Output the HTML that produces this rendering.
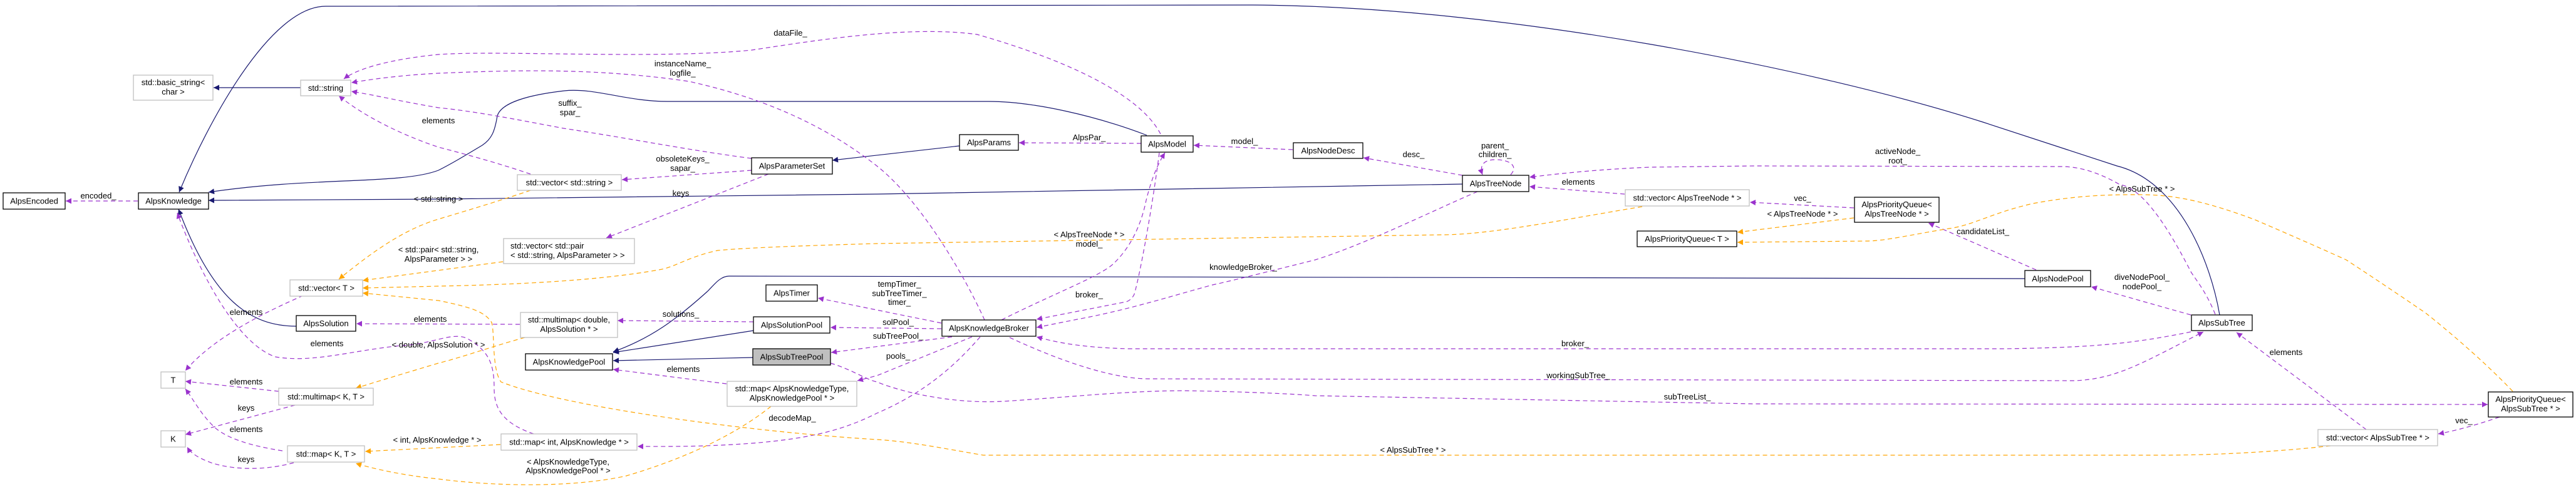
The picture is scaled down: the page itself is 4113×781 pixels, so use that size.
<!DOCTYPE html>
<html><head><meta charset="utf-8"><style>
html,body{margin:0;padding:0;background:#fff;}
svg{display:block;}
text{font-family:"Liberation Sans",Arial,sans-serif;font-size:13px;fill:#000;}
.n{fill:#fff;stroke:#000;stroke-width:1.3;}
.g{fill:#fff;stroke:#bfbfbf;stroke-width:1.3;}
.nv{fill:none;stroke:#191970;stroke-width:1.2;marker-end:url(#mn);}
.pu{fill:none;stroke:#9a32cd;stroke-width:1.2;stroke-dasharray:7,5;marker-end:url(#mp);}
.or{fill:none;stroke:#ffa500;stroke-width:1.2;stroke-dasharray:7,5;marker-end:url(#mo);}
</style></head><body>
<svg width="4113" height="781" viewBox="0 0 4113 781" xmlns="http://www.w3.org/2000/svg">
<defs>
<marker id="mn" viewBox="0 0 10 10" refX="10" refY="5" markerWidth="12" markerHeight="9" markerUnits="userSpaceOnUse" orient="auto"><path d="M0,0L10,5L0,10z" fill="#191970"/></marker>
<marker id="mp" viewBox="0 0 10 10" refX="10" refY="5" markerWidth="12" markerHeight="9" markerUnits="userSpaceOnUse" orient="auto"><path d="M0,0L10,5L0,10z" fill="#9a32cd"/></marker>
<marker id="mo" viewBox="0 0 10 10" refX="10" refY="5" markerWidth="12" markerHeight="9" markerUnits="userSpaceOnUse" orient="auto"><path d="M0,0L10,5L0,10z" fill="#ffa500"/></marker>
</defs>

<!-- navy inheritance edges -->
<path class="nv" d="M3544,503 C3530,420 3480,290 3380,265 L3166,195 C2900,110 2400,10 2000,8 L520,10 C430,10 330,200 286,307"/>
<path class="nv" d="M1831,216 C1750,185 1650,162 1578,162 L1066,162 C1000,162 950,140 901,145 C840,152 800,165 794,185 C790,210 785,222 770,232 C740,250 720,262 700,272 C640,295 500,282 333,307"/>
<path class="nv" d="M1532,233 L1329,256"/>
<path class="nv" d="M2335,294 L1400,310 L700,318 L333,320"/>
<path class="nv" d="M473,521 C400,521 340,480 285,334"/>
<path class="nv" d="M1203,528 L979,563"/>
<path class="nv" d="M1202,571 L979,576"/>
<path class="nv" d="M3233,445 L1164,441 C1150,441 1140,455 1130,465 C1080,510 1040,540 979,562"/>
<path class="nv" d="M480,140 L341,140"/>

<!-- purple dashed -->
<path class="pu" d="M220,321 L105,321"/>
<path class="pu" d="M1853,214 C1820,150 1700,95 1560,55 C1450,40 1300,65 1200,80 C1050,95 800,80 700,87 C620,95 570,110 549,126"/>
<path class="pu" d="M1572,511 C1540,440 1470,320 1400,265 C1330,210 1236,160 1100,130 C950,108 820,112 700,117 C640,120 590,127 561,132"/>
<path class="pu" d="M1200,253 C1100,240 1000,220 900,205 C820,190 760,178 700,172 C640,162 600,152 561,146"/>
<path class="pu" d="M847,278 C800,262 750,248 700,235 C640,215 580,185 541,153"/>
<path class="pu" d="M1200,272 L993,287"/>
<path class="pu" d="M1227,278 L968,380"/>
<path class="pu" d="M1822,229 L1627,228"/>
<path class="pu" d="M2064,239 L1906,232"/>
<path class="pu" d="M2335,280 L2177,252"/>
<path class="pu" d="M2412,279 C2425,265 2410,255 2388,255 C2368,255 2362,265 2367,279"/>
<path class="pu" d="M2594,310 L2442,298"/>
<path class="pu" d="M3537,502 C3520,460 3500,440 3496,430 C3460,360 3420,300 3385,295 C3350,275 3320,266 3291,266 L2800,265 L2636,267 C2560,270 2500,276 2442,283"/>
<path class="pu" d="M2960,332 L2794,323"/>
<path class="pu" d="M3251,431 L3079,356"/>
<path class="pu" d="M3498,503 L3339,458"/>
<path class="pu" d="M2359,306 C2280,340 2180,390 2100,415 C2020,435 1960,450 1936,455 C1880,470 1802,495 1720,510 L1655,523"/>
<path class="pu" d="M1599,511 C1680,470 1760,440 1779,420 C1810,390 1824,350 1830,320 C1840,280 1850,260 1860,244"/>
<path class="pu" d="M1851,244 C1840,330 1820,440 1811,470 C1805,483 1793,483 1793,483 L1655,510"/>
<path class="pu" d="M1503,516 L1306,476"/>
<path class="pu" d="M1503,525 L1326,523"/>
<path class="pu" d="M1520,538 L1327,563"/>
<path class="pu" d="M1552,538 L1400,600 L1369,608"/>
<path class="pu" d="M1565,538 C1520,590 1470,630 1400,660 C1350,685 1300,700 1200,708 C1120,714 1060,713 1018,713"/>
<path class="pu" d="M1160,613 L979,590"/>
<path class="pu" d="M3498,530 C3400,550 3336,555 3200,557 L1802,557 C1720,555 1680,545 1655,538"/>
<path class="pu" d="M1612,539 C1700,580 1780,605 1833,605 L3313,608 C3380,605 3420,580 3518,530"/>
<path class="pu" d="M1326,580 C1360,590 1380,605 1400,610 C1450,630 1530,645 1601,641 C1700,635 1800,624 1891,624 C1960,625 2050,628 2100,632 L2800,645 L3972,646"/>
<path class="pu" d="M3778,686 L3571,531"/>
<path class="pu" d="M3991,666 C3950,680 3920,688 3893,693"/>
<path class="pu" d="M1203,514 L986,512"/>
<path class="pu" d="M830,518 L569,517"/>
<path class="pu" d="M484,472 C420,500 340,540 296,592"/>
<path class="pu" d="M445,625 L296,609"/>
<path class="pu" d="M471,647 L296,694"/>
<path class="pu" d="M451,720 C400,712 360,700 340,680 C320,660 310,640 296,621"/>
<path class="pu" d="M469,739 C430,750 380,752 340,740 C320,733 305,725 299,714"/>
<path class="pu" d="M852,693 C800,675 789,650 789,620 C789,580 780,560 745,540 C720,530 690,550 640,552 C560,560 500,580 440,570 C380,550 320,440 283,340"/>

<!-- orange dashed -->
<path class="or" d="M847,304 C800,320 750,335 700,350 C650,365 603,395 541,446"/>
<path class="or" d="M803,418 L579,448"/>
<path class="or" d="M2622,330 C2500,350 2380,375 2301,375 L1400,389 C1300,392 1200,395 1146,400 C1100,410 1080,425 1057,430 C950,450 800,455 700,457 L579,460"/>
<path class="or" d="M3721,712 C3650,720 3550,727 3450,727 L1570,727 C1500,715 1450,705 1400,702 C1200,690 900,650 800,610 C785,590 790,530 785,515 C775,500 760,492 700,480 L579,468"/>
<path class="or" d="M838,539 C780,555 740,570 700,580 C650,595 600,610 568,620"/>
<path class="or" d="M799,710 L583,721"/>
<path class="or" d="M1231,649 C1180,690 1102,730 1000,760 C920,778 800,778 700,765 C650,760 600,750 568,740"/>
<path class="or" d="M2960,348 L2774,371"/>
<path class="or" d="M4012,625 C3950,560 3873,500 3873,500 C3800,450 3746,415 3746,415 C3680,385 3598,350 3598,350 C3530,325 3480,312 3425,311 C3350,310 3300,315 3246,325 C3180,340 3150,360 3112,365 C3050,375 3010,385 2979,385 L2774,387"/>

<!-- nodes -->
<rect class="n" x="5" y="308" width="99" height="26"/><text x="54.5" y="325.5" text-anchor="middle">AlpsEncoded</text>
<rect class="n" x="221" y="308" width="112" height="26"/><text x="277" y="325.5" text-anchor="middle">AlpsKnowledge</text>
<rect class="g" x="213" y="120" width="127" height="40"/><text x="276.5" y="136" text-anchor="middle">std::basic_string&lt;</text><text x="276.5" y="151" text-anchor="middle">char &gt;</text>
<rect class="g" x="480" y="128" width="80" height="25"/><text x="520" y="145" text-anchor="middle">std::string</text>
<rect class="g" x="463" y="447" width="116" height="26"/><text x="521" y="464.5" text-anchor="middle">std::vector&lt; T &gt;</text>
<rect class="n" x="473" y="504" width="95" height="25"/><text x="520.5" y="521" text-anchor="middle">AlpsSolution</text>
<rect class="g" x="257" y="594" width="39" height="26"/><text x="276.5" y="611.5" text-anchor="middle">T</text>
<rect class="g" x="445" y="620" width="151" height="27"/><text x="520.5" y="638" text-anchor="middle">std::multimap&lt; K, T &gt;</text>
<rect class="g" x="257" y="688" width="39" height="26"/><text x="276.5" y="705.5" text-anchor="middle">K</text>
<rect class="g" x="459" y="712" width="123" height="26"/><text x="520.5" y="729.5" text-anchor="middle">std::map&lt; K, T &gt;</text>

<rect class="g" x="826" y="279" width="166" height="25"/><text x="909" y="296" text-anchor="middle">std::vector&lt; std::string &gt;</text>
<rect class="n" x="1200" y="252" width="129" height="26"/><text x="1264.5" y="269.5" text-anchor="middle">AlpsParameterSet</text>
<rect class="g" x="804" y="381" width="209" height="40"/><text x="815" y="397" text-anchor="start">std::vector&lt; std::pair</text><text x="815" y="412" text-anchor="start">&lt; std::string, AlpsParameter &gt; &gt;</text>
<rect class="g" x="831" y="499" width="155" height="40"/><text x="908.5" y="515" text-anchor="middle">std::multimap&lt; double,</text><text x="908.5" y="530" text-anchor="middle">AlpsSolution * &gt;</text>
<rect class="n" x="839" y="565" width="139" height="26"/><text x="908.5" y="582.5" text-anchor="middle">AlpsKnowledgePool</text>
<rect class="n" x="1223" y="455" width="82" height="26"/><text x="1264" y="472.5" text-anchor="middle">AlpsTimer</text>
<rect class="n" x="1203" y="506" width="122" height="26"/><text x="1264" y="523.5" text-anchor="middle">AlpsSolutionPool</text>
<rect x="1202" y="557" width="124" height="26" fill="#bfbfbf" stroke="#000" stroke-width="1.3"/><text x="1264" y="574.5" text-anchor="middle">AlpsSubTreePool</text>
<rect class="g" x="1161" y="609" width="207" height="40"/><text x="1264.5" y="625" text-anchor="middle">std::map&lt; AlpsKnowledgeType,</text><text x="1264.5" y="640" text-anchor="middle">AlpsKnowledgePool * &gt;</text>
<rect class="g" x="800" y="693" width="217" height="26"/><text x="908.5" y="710.5" text-anchor="middle">std::map&lt; int, AlpsKnowledge * &gt;</text>

<rect class="n" x="1532" y="215" width="94" height="25"/><text x="1579" y="232" text-anchor="middle">AlpsParams</text>
<rect class="n" x="1822" y="217" width="83" height="26"/><text x="1863.5" y="234.5" text-anchor="middle">AlpsModel</text>
<rect class="n" x="1504" y="511" width="150" height="26"/><text x="1579" y="528.5" text-anchor="middle">AlpsKnowledgeBroker</text>

<rect class="n" x="2065" y="228" width="111" height="25"/><text x="2120.5" y="245" text-anchor="middle">AlpsNodeDesc</text>
<rect class="n" x="2335" y="280" width="106" height="26"/><text x="2388" y="297.5" text-anchor="middle">AlpsTreeNode</text>
<rect class="g" x="2595" y="303" width="198" height="26"/><text x="2694" y="320.5" text-anchor="middle">std::vector&lt; AlpsTreeNode * &gt;</text>
<rect class="n" x="2614" y="369" width="159" height="25"/><text x="2693.5" y="386" text-anchor="middle">AlpsPriorityQueue&lt; T &gt;</text>
<rect class="n" x="2961" y="315" width="135" height="40"/><text x="3028.5" y="331" text-anchor="middle">AlpsPriorityQueue&lt;</text><text x="3028.5" y="346" text-anchor="middle">AlpsTreeNode * &gt;</text>
<rect class="n" x="3233" y="432" width="105" height="26"/><text x="3285.5" y="449.5" text-anchor="middle">AlpsNodePool</text>
<rect class="n" x="3499" y="503" width="97" height="25"/><text x="3547.5" y="520" text-anchor="middle">AlpsSubTree</text>
<rect class="n" x="3973" y="626" width="135" height="40"/><text x="4040.5" y="642" text-anchor="middle">AlpsPriorityQueue&lt;</text><text x="4040.5" y="657" text-anchor="middle">AlpsSubTree * &gt;</text>
<rect class="g" x="3701" y="686" width="191" height="26"/><text x="3796.5" y="703.5" text-anchor="middle">std::vector&lt; AlpsSubTree * &gt;</text>

<!-- edge labels -->
<g text-anchor="middle">
<text x="157" y="317">encoded_</text>
<text x="1262" y="57">dataFile_</text>
<text x="1090" y="106">instanceName_</text><text x="1090" y="121">logfile_</text>
<text x="910" y="169">suffix_</text><text x="910" y="184">spar_</text>
<text x="700" y="197">elements</text>
<text x="1090" y="258">obsoleteKeys_</text><text x="1090" y="273">sapar_</text>
<text x="1087" y="313">keys</text>
<text x="700" y="322">&lt; std::string &gt;</text>
<text x="700" y="403">&lt; std::pair&lt; std::string,</text><text x="700" y="418">AlpsParameter &gt; &gt;</text>
<text x="393" y="503">elements</text>
<text x="687" y="514">elements</text>
<text x="1087" y="506">solutions_</text>
<text x="522" y="553">elements</text>
<text x="700" y="555">&lt; double, AlpsSolution * &gt;</text>
<text x="1091" y="594">elements</text>
<text x="393" y="614">elements</text>
<text x="393" y="656">keys</text>
<text x="393" y="690">elements</text>
<text x="698" y="707">&lt; int, AlpsKnowledge * &gt;</text>
<text x="393" y="738">keys</text>
<text x="1265" y="672">decodeMap_</text>
<text x="907" y="742">&lt; AlpsKnowledgeType,</text><text x="907" y="756">AlpsKnowledgePool * &gt;</text>
<text x="1436" y="458">tempTimer_</text><text x="1436" y="473">subTreeTimer_</text><text x="1436" y="487">timer_</text>
<text x="1434" y="519">solPool_</text>
<text x="1434" y="541">subTreePool_</text>
<text x="1434" y="573">pools_</text>
<text x="1739" y="224">AlpsPar_</text>
<text x="1987" y="230">model_</text>
<text x="1739" y="379">&lt; AlpsTreeNode * &gt;</text>
<text x="1739" y="394">model_</text>
<text x="1739" y="475">broker_</text>
<text x="1985" y="431">knowledgeBroker_</text>
<text x="2257" y="251">desc_</text>
<text x="2387" y="237">parent_</text><text x="2387" y="251">children_</text>
<text x="2520" y="295">elements</text>
<text x="3030" y="246">activeNode_</text><text x="3030" y="261">root_</text>
<text x="2878" y="321">vec_</text>
<text x="2878" y="346">&lt; AlpsTreeNode * &gt;</text>
<text x="3166" y="374">candidateList_</text>
<text x="3420" y="447">diveNodePool_</text><text x="3420" y="462">nodePool_</text>
<text x="3420" y="306">&lt; AlpsSubTree * &gt;</text>
<text x="2515" y="553">broker_</text>
<text x="2520" y="604">workingSubTree_</text>
<text x="2694" y="638">subTreeList_</text>
<text x="2256" y="723">&lt; AlpsSubTree * &gt;</text>
<text x="3650" y="567">elements</text>
<text x="3934" y="676">vec_</text>
</g>
</svg>
</body></html>
